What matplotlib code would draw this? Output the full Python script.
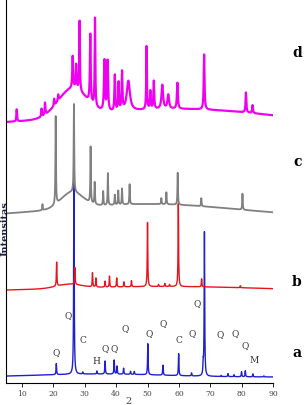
import numpy as np
import matplotlib
matplotlib.use("Agg")
import matplotlib.pyplot as plt

# 2-theta grid
two_theta = np.arange(5.0, 90.01, 0.02)

# peaks: positions (2theta) and heights (arbitrary intensity units)
a_pos = [21.0, 26.6, 29.4, 33.9, 36.5, 39.4, 40.3, 42.4, 44.6, 45.8, 50.1, 54.9, 59.9,
         64.0, 67.7, 68.1, 73.4, 75.6, 77.5, 79.9, 81.1, 83.5, 87.0]
a_hgt = [11, 202, 2, 3, 13, 14, 8, 6, 3, 3, 31, 10, 22,
         3, 11, 144, 1, 3, 2, 5, 6, 3, 1]

b_pos = [21.1, 26.9, 32.5, 33.6, 36.5, 37.9, 40.2, 42.5, 44.9, 50.0, 53.5, 55.5, 57.0,
         59.8, 67.2, 79.5]
b_hgt = [24, 17, 14, 9, 6, 11, 9, 5, 6, 64, 2, 3, 2,
         83, 8, 2]

c_pos = [16.6, 20.8, 26.6, 31.9, 33.2, 35.9, 37.4, 39.6, 40.7, 41.9, 44.3, 54.4, 56.0,
         59.6, 67.1, 80.2]
c_hgt = [6, 88, 88, 56, 22, 14, 32, 10, 14, 16, 20, 6, 12,
         32, 8, 16]

d_pos = [8.4, 16.3, 17.4, 20.3, 21.6, 26.2, 27.3, 28.4, 31.8, 33.3, 36.3, 37.3, 39.6,
         40.8, 41.9, 43.9, 49.7, 50.9, 52.0, 54.7, 56.6, 59.5, 68.0, 81.3, 83.4]
d_hgt = [12, 8, 12, 7, 6, 32, 24, 70, 68, 88, 50, 50, 36,
         28, 38, 30, 63, 18, 28, 24, 14, 26, 55, 20, 8]
d_wid = [0.12, 0.12, 0.12, 0.12, 0.12, 0.15, 0.15, 0.12, 0.15, 0.12, 0.18, 0.18, 0.15,
         0.15, 0.15, 0.6, 0.12, 0.15, 0.15, 0.3, 0.3, 0.18, 0.15, 0.15, 0.15]

# amorphous background humps: (centre, height, sigma) and base level
a_base, a_hump = 6, [(35, 3, 20)]
b_base, b_hump = 91, [(25, 4, 4), (55, 5.5, 35)]
c_base, c_hump = 166, [(26, 16, 3.5), (50, 13, 28)]
d_base, d_hump = 258, [(26, 28, 4.5), (60, 16, 30)]

# XRD phase labels (Q quartz, C, H, M)
phase_labels = ["Q", "Q", "C", "H", "Q", "Q", "Q", "Q", "Q", "C", "Q", "Q", "Q", "Q", "Q", "M"]
phase_x = [20.9, 24.7, 29.5, 33.6, 36.5, 39.3, 42.8, 50.5, 54.9, 60.0, 64.1, 65.7, 73.0, 77.8, 81.0, 83.9]
phase_y = [31, 68, 43, 22, 35, 35, 55, 50, 60, 43, 50, 80, 49, 50, 38, 23]


def pattern(base, humps, pos, hgt, wid=None):
    y = np.full_like(two_theta, float(base))
    for c, h, s in humps:
        y += h * np.exp(-(two_theta - c) ** 2 / (2 * s ** 2))
    if wid is None:
        wid = [0.1] * len(pos)
    for p, h, w in zip(pos, hgt, wid):
        y += h / (1 + ((two_theta - p) / w) ** 2)
    return y


fig = plt.figure(figsize=(3.05, 4.06), dpi=100)
ax = fig.add_axes([6 / 305, 22 / 406, 267.3 / 305, 384 / 406])

ax.plot(two_theta, pattern(a_base, a_hump, a_pos, a_hgt), color="#2020d0", lw=1.0)
ax.plot(two_theta, pattern(b_base, b_hump, b_pos, b_hgt), color="#e8141c", lw=1.0)
ax.plot(two_theta, pattern(c_base, c_hump, c_pos, c_hgt), color="#808080", lw=1.3)
ax.plot(two_theta, pattern(d_base, d_hump, d_pos, d_hgt, d_wid), color="#f000f0", lw=1.6)

for lab, x, y in zip(phase_labels, phase_x, phase_y):
    ax.text(x, y, lab, fontsize=6.5, family="DejaVu Serif", color="#333333",
            ha="center", va="center")

ax.set_xlim(5, 90)
ax.set_ylim(0, 384)
ax.set_xticks(range(10, 91, 10))
ax.set_yticks([])
ax.tick_params(axis="x", direction="out", length=3, width=0.6, pad=1.5,
               labelsize=5.5, labelcolor="#444444")
for t in ax.get_xticklabels():
    t.set_family("DejaVu Serif")
ax.spines["top"].set_visible(False)
ax.spines["right"].set_visible(False)
ax.spines["left"].set_linewidth(0.8)
ax.spines["bottom"].set_linewidth(0.8)

fig.text(129 / 305, 1 - 402 / 406, "2", fontsize=7, family="DejaVu Serif",
         color="#444444", ha="center", va="center")
fig.text(0.5 / 305, 1 - 229 / 406, "Intensitas", rotation=90, fontsize=7, weight="bold",
         family="DejaVu Serif", color="#1a1a3a", ha="left", va="center")

for lab, px, py in [("d", 297, 53), ("c", 298, 162), ("b", 297, 282), ("a", 297, 353)]:
    fig.text(px / 305, 1 - py / 406, lab, fontsize=10, weight="bold",
             family="DejaVu Serif", color="black", ha="center", va="center")

fig.savefig("out.png", dpi=100)
